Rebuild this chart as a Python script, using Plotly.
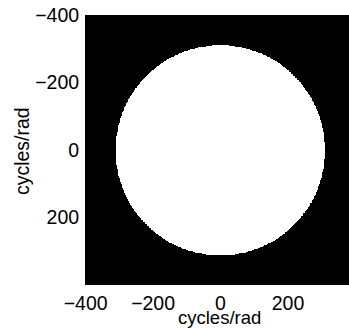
import numpy as np
import plotly.graph_objects as go

# Data: spatial frequency grid (cycles/rad) and pass-band radius of the disk mask
freq_x = np.arange(-404, 404, 2)
freq_y = np.arange(-404, 404, 2)
cutoff_radius = 311
x_tick_vals = [-400, -200, 0, 200]
y_tick_vals = [-400, -200, 0, 200]
axis_label = "cycles/rad"

FX, FY = np.meshgrid(freq_x, freq_y)
mask = (FX**2 + FY**2 <= cutoff_radius**2).astype(float)

fig = go.Figure(
    go.Heatmap(
        x=freq_x,
        y=freq_y,
        z=mask,
        colorscale=[[0, "black"], [1, "white"]],
        zmin=0,
        zmax=1,
        showscale=False,
        zsmooth=False,
        hoverinfo="skip",
    )
)

font = dict(family="Liberation Sans, Arial, sans-serif", size=19.5, color="black")
xtitle_font = dict(family="Liberation Sans, Arial, sans-serif", size=18.5, color="black")

axis_common = dict(
    ticks="outside",
    ticklen=1,
    tickcolor="rgba(0,0,0,0)",
    showgrid=False,
    zeroline=False,
    showline=False,
    automargin=False,
    tickfont=font,
)

fig.update_layout(
    width=349,
    height=330,
    margin=dict(l=85, r=0, t=15, b=45),
    paper_bgcolor="white",
    plot_bgcolor="black",
    font=font,
    xaxis=dict(range=[-402, 381], tickvals=x_tick_vals, **axis_common),
    yaxis=dict(range=[400, -400.5], tickvals=y_tick_vals, **axis_common),
    annotations=[
        dict(
            text=axis_label, xref="paper", yref="paper",
            x=0.5076, y=-0.122, xanchor="center", yanchor="middle",
            showarrow=False, font=xtitle_font,
        ),
        dict(
            text=axis_label, xref="paper", yref="paper",
            x=-0.2386, y=0.496, xanchor="center", yanchor="middle",
            textangle=-90, showarrow=False, font=font,
        ),
    ],
)

fig.write_html(
    "out.html",
    config={"displayModeBar": False},
    post_script="document.body.style.margin='0';",
)
